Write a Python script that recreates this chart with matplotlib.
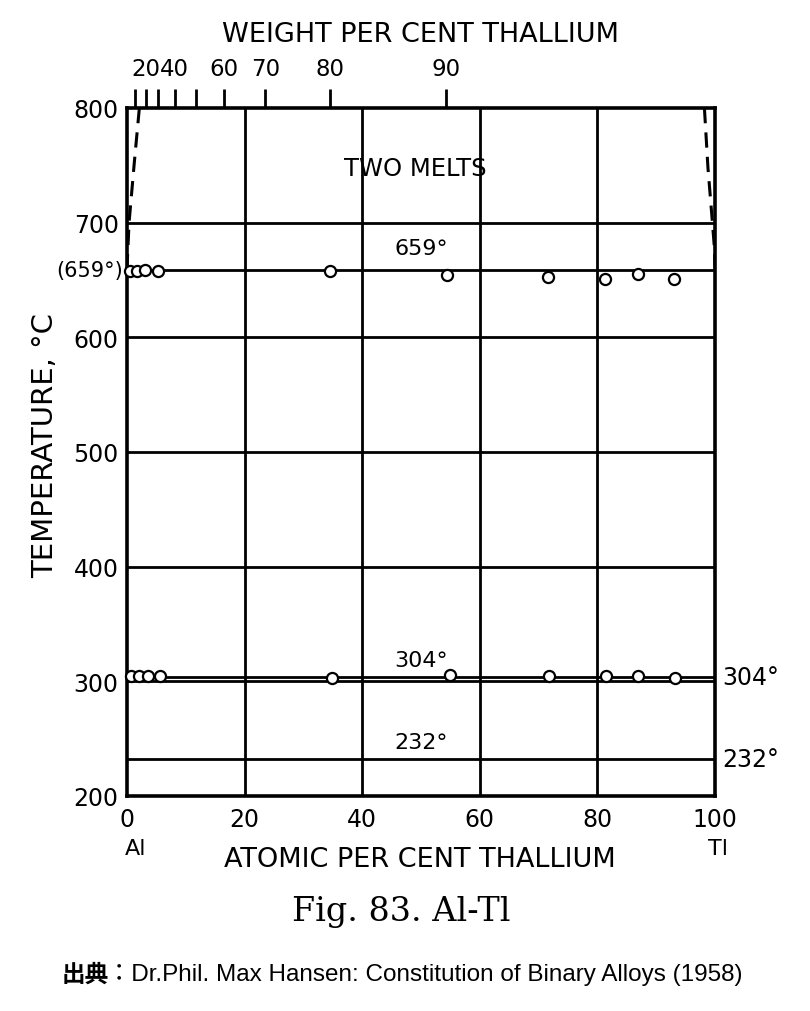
import matplotlib
matplotlib.use("Agg")
import matplotlib.pyplot as plt
import numpy as np

# Al-Tl phase diagram (Hansen 1958, Fig. 83)
# invariant lines, deg C
T_monotectic = 659
T_eutectic = 304
T_tl_melt = 232

# thermal-analysis points (atomic % Tl, deg C)
x_mono = [0.5, 1.7, 3.1, 5.2, 34.6, 54.5, 71.6, 81.3, 86.9, 93.0]
T_mono = [658, 658, 659, 657.5, 657.5, 654, 652.5, 650.5, 655.5, 651]
x_eut = [0.7, 2.0, 3.6, 5.6, 34.8, 54.9, 71.8, 81.4, 86.9, 93.2]
T_eut = [304.5, 305, 305, 304.5, 303, 305.5, 304.3, 304.3, 305, 303]

# boundaries of the two-melt region (dashed)
x_gap_left = [2.1, 1.2, 0.35, 0.0]
T_gap_left = [800, 750, 700, 660]
x_gap_right = [98.2, 98.8, 99.5, 99.9, 100.0]
T_gap_right = [800, 748, 704, 678, 660]

# top axis: weight per cent Tl
wt_ticks = [10, 20, 30, 40, 50, 60, 70, 80, 90]
wt_labels = ['', '20', '', '40', '', '60', '70', '80', '90']
M_AL, M_TL = 26.98, 204.38


def wt_to_at(w):
    w = np.asarray(w, dtype=float)
    n_tl = w / M_TL
    n_al = (100 - w) / M_AL
    return 100 * n_tl / (n_tl + n_al)


y_ticks = [200, 300, 400, 500, 600, 700, 800]
x_ticks = [0, 20, 40, 60, 80, 100]

W, H = 810, 1012
fig = plt.figure(figsize=(W / 100, H / 100), dpi=100)
ax = fig.add_axes([127 / W, 1 - 797 / H, (715 - 127) / W, (797 - 109) / H])

ax.set_xlim(0, 100)
ax.set_ylim(200, 800)

# grid
for xv in x_ticks[1:-1]:
    ax.axvline(xv, color='black', lw=2.0, zorder=1)
for yv in y_ticks[1:-1]:
    ax.axhline(yv, color='black', lw=2.0, zorder=1)

# invariant lines
ax.plot([0, 100], [T_monotectic] * 2, color='black', lw=2.0, zorder=2)
ax.plot([0, 100], [T_eutectic] * 2, color='black', lw=2.0, zorder=2)
ax.plot([0, 100], [T_tl_melt] * 2, color='black', lw=2.0, zorder=2)

ax.plot(x_gap_left, T_gap_left, color='black', lw=2.2, ls=(0, (5, 3)), zorder=2)
ax.plot(x_gap_right, T_gap_right, color='black', lw=2.2, ls=(0, (5, 3)), zorder=2)

mk = dict(ls='none', marker='o', ms=8, mfc='white', mec='black', mew=1.6, zorder=4,
          clip_on=False)
ax.plot(x_mono, T_mono, **mk)
ax.plot(x_eut, T_eut, **mk)

for s in ax.spines.values():
    s.set_linewidth(2.6)

txt = dict(color='black', family='DejaVu Sans')
ax.set_xticks(x_ticks)
ax.set_yticks(y_ticks)
ax.tick_params(length=0, labelsize=17, pad=6)
ax.tick_params(axis='x', pad=8)

# labels inside the diagram
ax.text(49, 748, 'TWO MELTS', ha='center', va='center', fontsize=17.5, **txt)
ax.text(50, 669, '659°', ha='center', va='bottom', fontsize=16, **txt)
ax.text(50, 310, '304°', ha='center', va='bottom', fontsize=16, **txt)
ax.text(50, 238, '232°', ha='center', va='bottom', fontsize=16, **txt)
ax.text(-0.6, T_monotectic, '(659°)', ha='right', va='center', fontsize=15, **txt)
ax.text(101.2, T_eutectic, '304°', ha='left', va='center', fontsize=17, **txt)
ax.text(101.2, T_tl_melt, '232°', ha='left', va='center', fontsize=17, **txt)
ax.text(1.5, 155, 'Al', ha='center', va='center', fontsize=16, **txt)
ax.text(100.5, 155, 'Tl', ha='center', va='center', fontsize=16, **txt)

# top weight-percent axis
top = ax.twiny()
top.set_xlim(ax.get_xlim())
top.set_xticks(wt_to_at(wt_ticks))
top.set_xticklabels(wt_labels)
top.tick_params(axis='x', direction='out', length=14, width=2, labelsize=16.5, pad=6)
for s in top.spines.values():
    s.set_visible(False)

fig.text(420 / W, 1 - 35 / H, 'WEIGHT PER CENT THALLIUM', ha='center', va='center',
         fontsize=19.5, **txt)
fig.text(420 / W, 1 - 860 / H, 'ATOMIC PER CENT THALLIUM', ha='center', va='center',
         fontsize=19.5, **txt)
fig.text(45 / W, 1 - 445 / H, 'TEMPERATURE, °C', ha='center', va='center',
         rotation=90, fontsize=21, **txt)

fig.text(401 / W, 1 - 912 / H, 'Fig. 83. Al-Tl', ha='center', va='center',
         fontsize=24, family='DejaVu Serif')

fig.text(62 / W, 1 - 975 / H, '出典', ha='left', va='center', fontsize=17,
         weight='bold', family=['Noto Sans CJK JP', 'DejaVu Sans'])
fig.text(107 / W, 1 - 975 / H, '：Dr.Phil. Max Hansen: Constitution of Binary Alloys (1958)',
         ha='left', va='center', fontsize=17.5,
         family=['Liberation Sans', 'Noto Sans CJK JP'])

fig.savefig('out.png', dpi=100)
